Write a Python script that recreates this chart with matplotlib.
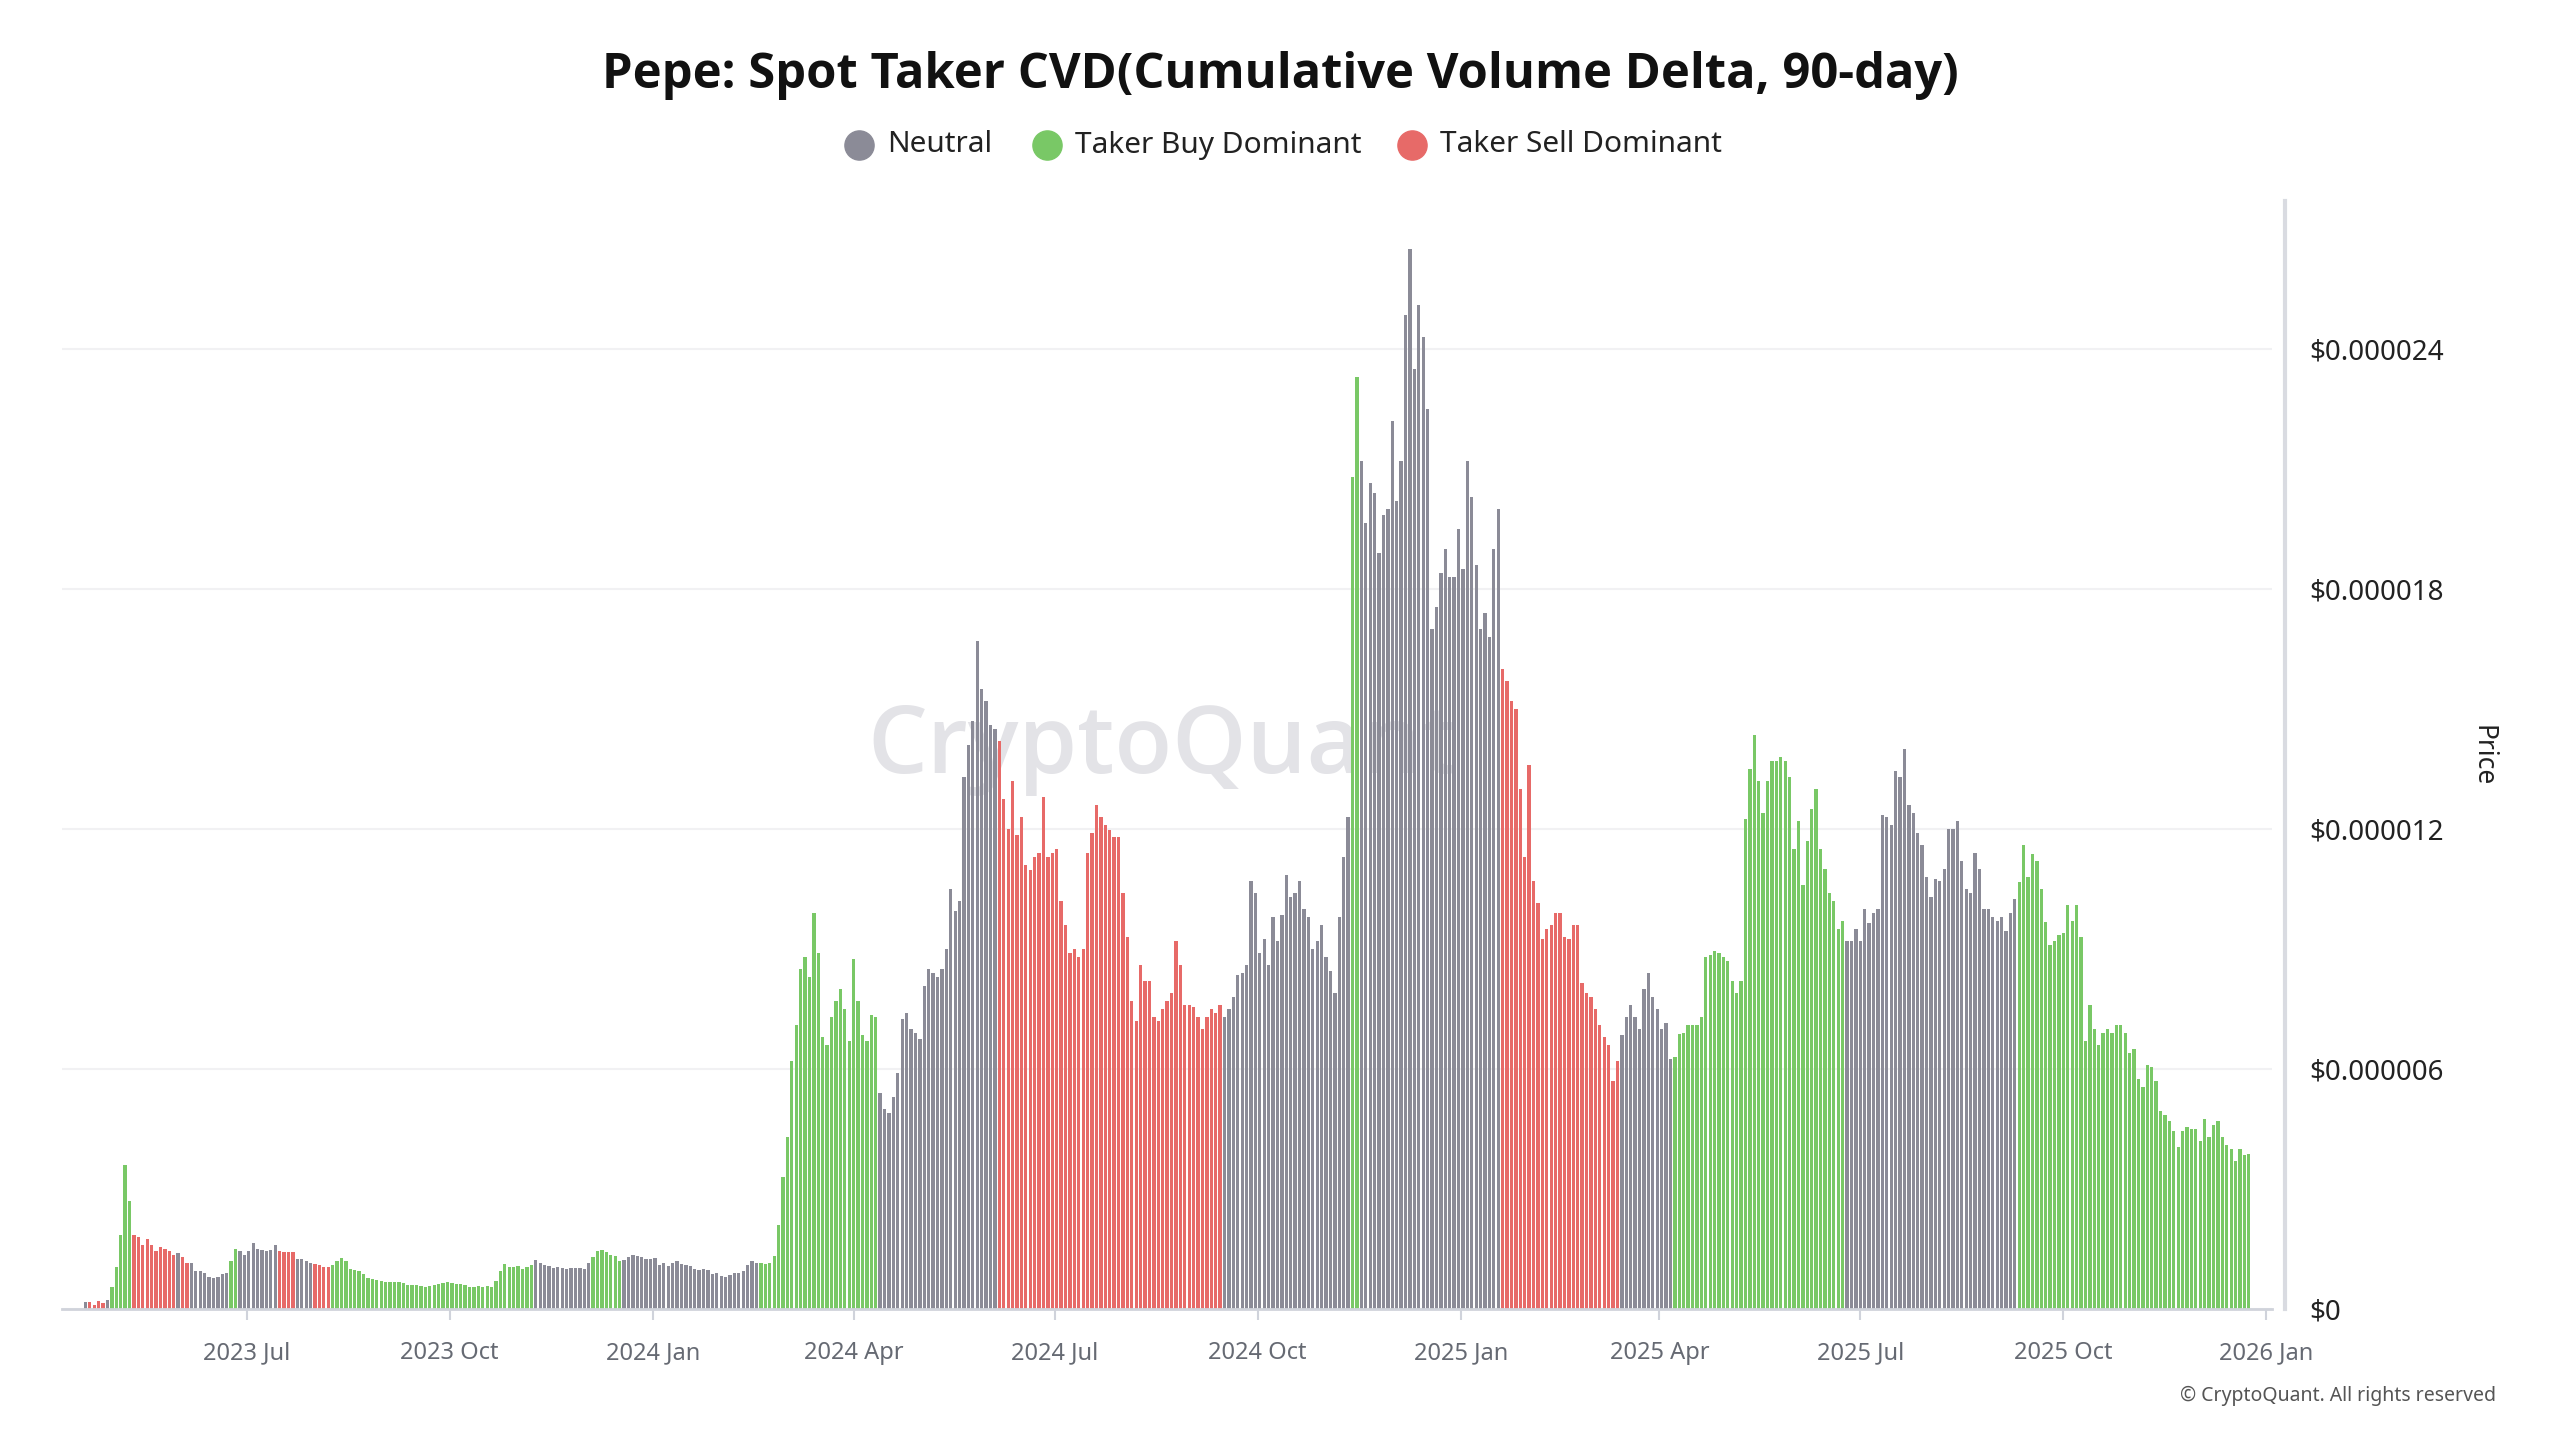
import numpy as np
import pandas as pd
import matplotlib
matplotlib.use("Agg")
import matplotlib.pyplot as plt
import matplotlib.dates as mdates
from matplotlib.lines import Line2D
from matplotlib.ticker import FuncFormatter

# ---------------- data (price in units of 1e-6 USD, one bar every 2 days) ----------------
start_date = "2023-04-19"
bar_step = "2D"

price_2023 = [
    0.18, 0.18, 0.10, 0.20, 0.16, 0.22,
    0.55, 1.05, 1.85, 3.6, 2.7, 1.85, 1.8, 1.6, 1.75, 1.6, 1.45, 1.55, 1.5, 1.45, 1.35, 1.4,
    1.3, 1.16, 1.14, 0.95, 0.95, 0.9, 0.8, 0.77, 0.8, 0.88, 0.9, 1.2, 1.5, 1.45, 1.35,
    1.45, 1.65, 1.5, 1.47, 1.44, 1.48, 1.6, 1.45, 1.43, 1.42, 1.42, 1.25, 1.25, 1.2, 1.15,
    1.13, 1.09, 1.06, 1.04, 1.1, 1.2, 1.27, 1.2, 1.0, 0.97, 0.96, 0.87, 0.77, 0.75, 0.73, 0.69,
    0.68, 0.68, 0.68, 0.68, 0.65, 0.6, 0.6, 0.6, 0.57, 0.55, 0.58, 0.6, 0.62, 0.64, 0.68,
    0.64, 0.62, 0.62, 0.6, 0.56, 0.55, 0.57, 0.55, 0.58, 0.55, 0.7, 0.95, 1.12, 1.05, 1.05,
    1.08, 1.0, 1.05, 1.1, 1.22, 1.15, 1.1, 1.08, 1.03, 1.05, 1.03, 0.99, 1.02, 1.03, 1.02,
    0.99, 1.15, 1.3, 1.45, 1.47, 1.42, 1.35, 1.32, 1.2, 1.22, 1.3, 1.35, 1.32, 1.29, 1.25, 1.25,
]

price_2024 = [
    1.28, 1.1, 1.15, 1.08, 1.15, 1.2, 1.12, 1.1, 1.08, 1.0, 0.97, 1.0, 0.97, 0.88, 0.9,
    0.82, 0.8, 0.85, 0.9, 0.9, 0.95, 1.1, 1.2, 1.15, 1.15, 1.12, 1.15, 1.33, 2.1, 3.3,
    4.3, 6.2, 7.1, 8.5, 8.8, 8.3, 9.9, 8.9, 6.8, 6.6, 7.3, 7.7, 8.0, 7.5, 6.7,
    8.75, 7.7, 6.85, 6.7, 7.36, 7.3, 5.4, 5.0, 4.9, 5.3, 5.9, 7.24, 7.4, 7.0, 6.9,
    6.75, 8.07, 8.5, 8.4, 8.3, 8.5, 9.0, 10.5, 9.95, 10.2, 13.3, 14.1, 14.7, 16.7, 15.5, 15.2,
    14.6, 14.5, 14.2, 12.75, 12.0, 13.2, 11.86, 12.3, 11.1, 10.97, 11.3, 11.4, 12.8, 11.3, 11.4,
    11.5, 10.2, 9.6, 8.9, 9.0, 8.8, 9.0, 11.4, 11.9, 12.6, 12.3, 12.1, 11.98, 11.8, 11.8,
    10.4, 9.3, 7.7, 7.2, 8.6, 8.2, 8.2, 7.3, 7.2, 7.5, 7.7, 7.9, 9.2, 8.6, 7.6, 7.6,
    7.55, 7.3, 7.0, 7.3, 7.5, 7.4, 7.6, 7.3, 7.5, 7.8, 8.35, 8.4, 8.6, 10.7, 10.4,
    8.9, 9.25, 8.6, 9.8, 9.2, 9.85, 10.85, 10.3, 10.4, 10.7, 10.0, 9.8, 9.0, 9.2, 9.6,
    8.8, 8.45, 7.9, 9.8, 11.3, 12.3, 20.8, 23.3, 21.2, 19.66, 20.66, 20.4, 18.9, 19.84, 20.0,
    22.2, 20.2, 21.2, 24.86, 26.5, 23.5, 25.1, 24.3, 22.5, 17.0, 17.56, 18.4, 19.0, 18.3, 18.3, 19.5,
]

price_2025 = [
    18.5, 21.2, 20.3, 18.6, 17.0, 17.4, 16.8, 19.0, 20.0, 16.0, 15.7, 15.2, 15.0, 13.0, 11.3,
    13.6, 10.7, 10.16, 9.25, 9.5, 9.6, 9.9, 9.9, 9.3, 9.25, 9.6, 9.6, 8.15, 7.9,
    7.8, 7.5, 7.1, 6.8, 6.6, 5.7, 6.2, 6.85, 7.3, 7.6, 7.3, 7.0, 8.0, 8.4, 7.8, 7.5,
    7.0, 7.15, 6.24, 6.3, 6.88, 6.9, 7.1, 7.1, 7.1, 7.3, 8.8, 8.85, 8.95, 8.9, 8.8,
    8.7, 8.2, 7.9, 8.2, 12.26, 13.5, 14.36, 13.2, 12.4, 13.2, 13.7, 13.7, 13.8, 13.7, 13.3,
    11.5, 12.2, 10.6, 11.7, 12.5, 13.0, 11.5, 11.0, 10.4, 10.2, 9.5, 9.7, 9.2, 9.2, 9.5,
    9.2, 10.0, 9.65, 9.9, 10.0, 12.35, 12.3, 12.1, 13.45, 13.3, 14.0, 12.6, 12.4, 11.9, 11.6, 10.8,
    10.3, 10.75, 10.7, 11.0, 12.0, 12.0, 12.2, 11.2, 10.5, 10.4, 11.4, 11.0, 10.0, 10.0, 9.8,
    9.7, 9.79, 9.45, 9.9, 10.26, 10.67, 11.6, 10.8, 11.38, 11.2, 10.5, 9.67, 9.1, 9.2, 9.35,
    9.4, 10.1, 9.7, 10.1, 9.3, 6.7, 7.6, 7.0, 6.6, 6.9, 7.0, 6.9, 7.1, 7.1, 6.9, 6.4,
    6.5, 5.75, 5.55, 6.1, 6.05, 5.7, 4.94, 4.85, 4.7, 4.46, 4.05, 4.45, 4.55, 4.5, 4.5,
    4.2, 4.75, 4.3, 4.6, 4.7, 4.3, 4.1, 4.0, 3.7, 4.0, 3.85, 3.87,
]

# regime (bar colour class) changes: date from which the class applies
regime_starts = [
    "2023-04-19", "2023-04-21", "2023-04-29", "2023-05-01", "2023-05-11", "2023-05-31",
    "2023-06-02", "2023-06-06", "2023-06-24", "2023-06-28", "2023-07-16", "2023-07-24",
    "2023-08-01", "2023-08-09", "2023-11-09", "2023-12-05", "2023-12-19", "2024-02-19",
    "2024-04-13", "2024-06-06", "2024-09-16", "2024-11-13", "2024-11-17", "2025-01-20",
    "2025-03-15", "2025-04-08", "2025-06-25", "2025-09-11",
]
regime_labels = [
    "Neutral", "Taker Sell Dominant", "Neutral", "Taker Buy Dominant", "Taker Sell Dominant", "Neutral",
    "Taker Sell Dominant", "Neutral", "Taker Buy Dominant", "Neutral", "Taker Sell Dominant", "Neutral",
    "Taker Sell Dominant", "Taker Buy Dominant", "Neutral", "Taker Buy Dominant", "Neutral", "Taker Buy Dominant",
    "Neutral", "Taker Sell Dominant", "Neutral", "Taker Buy Dominant", "Neutral", "Taker Sell Dominant",
    "Neutral", "Taker Buy Dominant", "Neutral", "Taker Buy Dominant",
]

legend_labels = ["Neutral", "Taker Buy Dominant", "Taker Sell Dominant"]
yticks_values = [0, 6e-6, 12e-6, 18e-6, 24e-6]

# ---------------- styling ----------------
COLORS = {"Neutral": "#8b8b97", "Taker Buy Dominant": "#79c866", "Taker Sell Dominant": "#e76a68"}
FONT = ["Noto Sans", "DejaVu Sans"]
TITLE_FONT = ["Open Sans", "DejaVu Sans"]
plt.rcParams["font.family"] = FONT

W, H = 2560, 1440
fig = plt.figure(figsize=(W / 100, H / 100), dpi=100)
fig.patch.set_facecolor("white")

# layout in pixels
ax_left, ax_right, ax_top, ax_bottom = 62, 2272, 201, 1309
ax = fig.add_axes([ax_left / W, 1 - ax_bottom / H, (ax_right - ax_left) / W, (ax_bottom - ax_top) / H])

values = np.array(price_2023 + price_2024 + price_2025) * 1e-6
dates = pd.date_range(start_date, periods=len(values), freq=bar_step)
rs = pd.to_datetime(regime_starts)
idx = np.searchsorted(rs.values, dates.values, side="right") - 1
labels = [regime_labels[i] for i in idx]
colors = [COLORS[l] for l in labels]

ax.bar(dates, values, width=1.5, color=colors, linewidth=0, align="center", zorder=2)

# x range
ref = pd.Timestamp("2023-07-01")
ax.set_xlim(ref - pd.Timedelta(days=83.6), ref + pd.Timedelta(days=917.5))
ax.set_ylim(0, 27.7e-6)

ax.xaxis.set_major_locator(mdates.MonthLocator(bymonth=[1, 4, 7, 10]))
ax.xaxis.set_major_formatter(mdates.DateFormatter("%Y %b"))
ax.tick_params(axis="x", length=8, width=1.5, color="#d0d3db", labelsize=17, labelcolor="#666a73", pad=15)

ax.set_yticks(yticks_values)
ax.yaxis.tick_right()
ax.yaxis.set_major_formatter(FuncFormatter(lambda v, p: "$0" if v == 0 else f"${v:.6f}"))
ax.tick_params(axis="y", length=0, labelsize=20, labelcolor="#222222", pad=27)
for lab in ax.get_yticklabels():
    lab.set_horizontalalignment("left")
ax.yaxis.grid(True, color="#f1f1f3", linewidth=1.5, zorder=0)
ax.set_axisbelow(True)

for s in ["top", "left", "right"]:
    ax.spines[s].set_visible(False)
ax.spines["bottom"].set_color("#d0d3db")
ax.spines["bottom"].set_linewidth(2)
ax.spines["bottom"].set_zorder(3)

# right vertical axis line
fig.add_artist(Line2D([2285 / W, 2285 / W], [1 - ax_top / H, 1 - ax_bottom / H],
                      transform=fig.transFigure, color="#d9dbe1", linewidth=3))

# watermark
fig.text(1163 / W, 1 - 748 / H, "CryptoQuant", ha="center", va="center", fontsize=68,
         color="#e3e3e7", fontweight="semibold", family=TITLE_FONT, zorder=0)
ax.set_zorder(1)
ax.patch.set_alpha(0)

# title
fig.text(0.5, 1 - 75 / H, "Pepe: Spot Taker CVD(Cumulative Volume Delta, 90-day)",
         ha="center", va="center", fontsize=35.2, fontweight="bold", color="#111111", family=TITLE_FONT)

# legend (manual)
leg_marker_x = [859, 1047, 1412]
leg_y = 145
for mx, lab in zip(leg_marker_x, legend_labels):
    fig.add_artist(Line2D([mx / W], [1 - leg_y / H], marker="o", markersize=21, color=COLORS[lab],
                          linestyle="none", transform=fig.transFigure))
    fig.text((mx + 28) / W, 1 - leg_y / H, lab, ha="left", va="center", fontsize=21.5, color="#222222")

# y-axis title
fig.text(2482 / W, 1 - 756 / H, "Price", rotation=-90, ha="center", va="center", fontsize=19, color="#222222")

# copyright
fig.text(2496 / W, 1 - 1396 / H, "© CryptoQuant. All rights reserved", ha="right", va="center",
         fontsize=14, color="#555555")

fig.savefig("out.png", dpi=100, facecolor="white")
